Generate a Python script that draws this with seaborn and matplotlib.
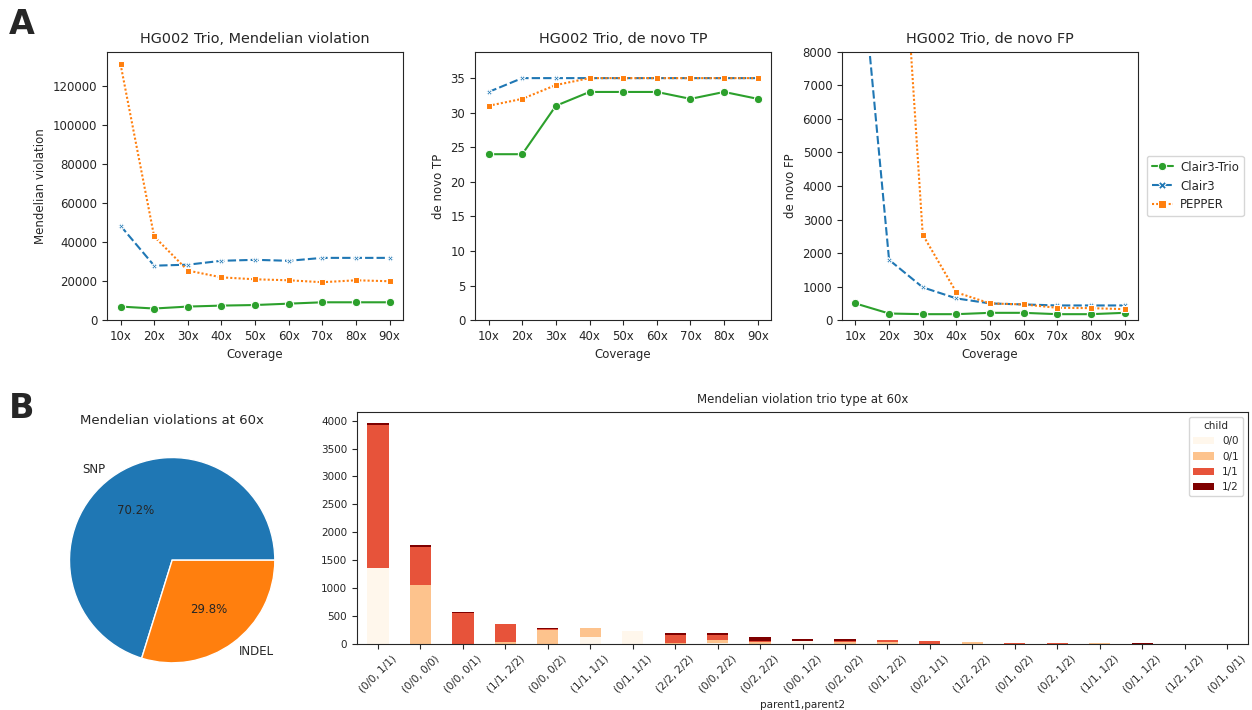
import numpy as np
import pandas as pd
import matplotlib
matplotlib.use("Agg")
import matplotlib.pyplot as plt
import seaborn as sns

#%% Data
coverage = ["10x", "20x", "30x", "40x", "50x", "60x", "70x", "80x", "90x"]
tools = ["Clair3-Trio", "Clair3", "PEPPER"]

# Mendelian violation
mv_clair3_trio = [7000, 6000, 7000, 7500, 7800, 8500, 9200, 9200, 9200]
mv_clair3 = [48500, 28000, 28500, 30500, 31000, 30500, 32000, 32000, 32000]
mv_pepper = [131500, 43000, 25500, 22000, 21000, 20500, 19500, 20500, 20000]

# de novo TP
tp_clair3_trio = [24, 24, 31, 33, 33, 33, 32, 33, 32]
tp_clair3 = [33, 35, 35, 35, 35, 35, 35, 35, 35]
tp_pepper = [31, 32, 34, 35, 35, 35, 35, 35, 35]

# de novo FP
fp_clair3_trio = [500, 200, 180, 180, 220, 220, 180, 180, 220]
fp_clair3 = [12500, 1800, 980, 650, 500, 470, 440, 440, 440]
fp_pepper = [30000, 18100, 2550, 830, 500, 470, 370, 360, 330]

# pie
pie_labels = ["SNP", "INDEL"]
pie_values = [70.2, 29.8]

# trio type at 60x
trio_types = ["(0/0, 1/1)", "(0/0, 0/0)", "(0/0, 0/1)", "(1/1, 2/2)", "(0/0, 0/2)",
              "(1/1, 1/1)", "(0/1, 1/1)", "(2/2, 2/2)", "(0/0, 2/2)", "(0/2, 2/2)",
              "(0/0, 1/2)", "(0/2, 0/2)", "(0/1, 2/2)", "(0/2, 1/1)", "(1/2, 2/2)",
              "(0/1, 0/2)", "(0/2, 1/2)", "(1/1, 1/2)", "(0/1, 1/2)", "(1/2, 1/2)",
              "(0/1, 0/1)"]
child_gt = ["0/0", "0/1", "1/1", "1/2"]
child_00 = [1360, 0, 0, 0, 0, 120, 230, 0, 20, 0, 50, 0, 0, 0, 0, 0, 0, 0, 0, 1, 1]
child_01 = [0, 1060, 0, 30, 250, 170, 0, 10, 50, 40, 0, 40, 30, 5, 40, 0, 0, 12, 0, 0, 0]
child_11 = [2570, 680, 560, 330, 10, 0, 0, 150, 90, 10, 0, 20, 40, 55, 0, 20, 18, 0, 8, 0, 0]
child_12 = [30, 25, 15, 0, 30, 0, 0, 35, 40, 70, 40, 35, 0, 0, 0, 0, 0, 0, 15, 0, 0]

#%% Build tables
df_lines = pd.DataFrame({
    "Coverage": coverage * 3,
    "tool": np.repeat(tools, len(coverage)),
    "Mendelian violation": mv_clair3_trio + mv_clair3 + mv_pepper,
    "de novo TP": tp_clair3_trio + tp_clair3 + tp_pepper,
    "de novo FP": fp_clair3_trio + fp_clair3 + fp_pepper,
})

counts = {"0/0": child_00, "0/1": child_01, "1/1": child_11, "1/2": child_12}
rows = []
for i, t in enumerate(trio_types):
    for g in child_gt:
        rows.append((t, g, counts[g][i]))
df_bar = pd.DataFrame(rows, columns=["parent1,parent2", "child", "count"])

#%% Style
sns.set_style("ticks")
tab = sns.color_palette("tab10")
line_palette = {"Clair3-Trio": tab[2], "Clair3": tab[0], "PEPPER": tab[1]}
line_markers = {"Clair3-Trio": "o", "Clair3": "X", "PEPPER": "s"}
line_dashes = {"Clair3-Trio": "", "Clair3": (4, 1.5), "PEPPER": (1, 1)}

fig = plt.figure(figsize=(12.52, 7.1), dpi=100)

#%% Top row: line plots
panels = [
    ("Mendelian violation", "HG002 Trio, Mendelian violation", 0.0855, None),
    ("de novo TP", "HG002 Trio, de novo TP", 0.3795, 38.8),
    ("de novo FP", "HG002 Trio, de novo FP", 0.6725, 8000),
]
for k, (col, title, left, ytop) in enumerate(panels):
    ax = fig.add_axes([left, 0.549, 0.2365, 0.378])
    last = k == len(panels) - 1
    sns.lineplot(
        data=df_lines, x="Coverage", y=col, hue="tool", style="tool",
        hue_order=tools, style_order=tools, palette=line_palette,
        markers=line_markers, dashes=line_dashes, linewidth=1.5,
        ax=ax, legend="auto" if last else False,
    )
    # X and square markers are smaller than the circles in the original
    for ln in ax.lines:
        if ln.get_color() != tab[2]:
            ln.set_markersize(4)
    ax.set_ylim(0, ytop)
    ax.set_title(title, fontsize=10.4)
    ax.set_xlabel("Coverage", fontsize=8.5)
    ax.set_ylabel(col, fontsize=8.5)
    ax.tick_params(labelsize=8.5)
    if last:
        sns.move_legend(ax, "center left", bbox_to_anchor=(1.01, 0.5),
                        title=None, fontsize=8.5, frameon=True,
                        handlelength=1.8, handletextpad=0.6)

#%% Bottom left: pie
ax_pie = fig.add_axes([0.035, 0.03, 0.205, 0.362])
ax_pie.pie(pie_values, labels=pie_labels, colors=tab[:2], autopct="%1.1f%%",
           textprops={"fontsize": 8.5})
ax_pie.set_title("Mendelian violations at 60x", fontsize=9.5)

#%% Bottom right: stacked bars
ax_bar = fig.add_axes([0.285, 0.093, 0.712, 0.327])
bar_colors = list(plt.get_cmap("OrRd")(np.linspace(0, 1, 4)))
sns.histplot(
    data=df_bar, x="parent1,parent2", weights="count", hue="child",
    hue_order=child_gt[::-1], palette=bar_colors[::-1], multiple="stack",
    discrete=True, shrink=0.5, alpha=1, linewidth=0, ax=ax_bar,
)
leg = ax_bar.get_legend()
handles = leg.legend_handles
labels = [t.get_text() for t in leg.get_texts()]
ax_bar.legend(handles[::-1], labels[::-1], title="child", loc="upper right",
              fontsize=7.5, title_fontsize=7.5)
ax_bar.set_xlim(-0.5, len(trio_types) - 0.5)
ax_bar.set_ylabel("")
ax_bar.set_xlabel("parent1,parent2", fontsize=7.5)
ax_bar.set_title("Mendelian violation trio type at 60x", fontsize=8.5)
ax_bar.tick_params(labelsize=7.5)
plt.setp(ax_bar.get_xticklabels(), rotation=45)

#%% Panel letters
fig.text(0.007, 0.965, "A", fontsize=24, fontweight="heavy", va="center")
fig.text(0.007, 0.425, "B", fontsize=24, fontweight="heavy", va="center")

fig.savefig("out.png", dpi=100)
